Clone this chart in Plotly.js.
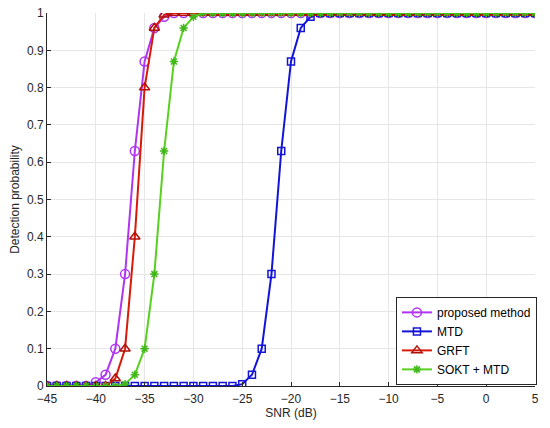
<!DOCTYPE html>
<html>
<head>
<meta charset="utf-8">
<script src="https://cdn.plot.ly/plotly-3.0.1.min.js"></script>
<style>
  html, body { margin: 0; padding: 0; background: #fff; }
  #chart { width: 550px; height: 428px; }
</style>
</head>
<body>
<div id="chart"></div>
<script>
// SNR axis, 1 dB steps
var snr = [-45,-44,-43,-42,-41,-40,-39,-38,-37,-36,-35,-34,-33,-32,-31,-30,-29,-28,-27,-26,
  -25,-24,-23,-22,-21,-20,-19,-18,-17,-16,-15,-14,-13,-12,-11,-10,-9,-8,-7,-6,-5,-4,-3,-2,-1,0,1,2,3,4,5];

var proposed = [0,0,0,0,0,0.01,0.03,0.1,0.3,0.63,0.87,0.96,0.99,1,1,1,1,1,1,1,
  1,1,1,1,1,1,1,1,1,1,1,1,1,1,1,1,1,1,1,1,1,1,1,1,1,1,1,1,1,1,1];

var mtd = [0,0,0,0,0,0,0,0,0,0,0,0,0,0,0,0,0,0,0,0,
  0.005,0.03,0.1,0.3,0.63,0.87,0.96,0.99,1,1,1,1,1,1,1,1,1,1,1,1,1,1,1,1,1,1,1,1,1,1,1];

var grft = [0,0,0,0,0,0,0,0.02,0.1,0.4,0.8,0.96,0.995,1,1,1,1,1,1,1,
  1,1,1,1,1,1,1,1,1,1,1,1,1,1,1,1,1,1,1,1,1,1,1,1,1,1,1,1,1,1,1];

var sokt = [0,0,0,0,0,0,0,0,0.005,0.03,0.1,0.3,0.63,0.87,0.96,0.99,1,1,1,1,
  1,1,1,1,1,1,1,1,1,1,1,1,1,1,1,1,1,1,1,1,1,1,1,1,1,1,1,1,1,1,1];

var xTicks = [-45,-40,-35,-30,-25,-20,-15,-10,-5,0,5];
var yTicks = [0,0.1,0.2,0.3,0.4,0.5,0.6,0.7,0.8,0.9,1];
var yTickText = ['0','0.1','0.2','0.3','0.4','0.5','0.6','0.7','0.8','0.9','1'];

var data = [
  {
    x: snr, y: proposed, name: 'proposed method',
    type: 'scatter', mode: 'lines+markers',
    line: { color: '#b035f0', width: 2 },
    marker: { symbol: 'circle-open', size: 9, color: '#b035f0', line: { width: 1.5 } }
  },
  {
    x: snr, y: mtd, name: 'MTD',
    type: 'scatter', mode: 'lines+markers',
    line: { color: '#1414d8', width: 2 },
    marker: { symbol: 'square-open', size: 7, color: '#1414d8', line: { width: 1.5 } }
  },
  {
    x: snr, y: grft, name: 'GRFT',
    type: 'scatter', mode: 'lines+markers',
    line: { color: '#d81a0a', width: 2 },
    marker: { symbol: 'triangle-up-open', size: 9, color: '#b01008', line: { width: 1.5 } }
  },
  {
    x: snr, y: sokt, name: 'SOKT + MTD',
    type: 'scatter', mode: 'lines+markers',
    line: { color: '#58d020', width: 2 },
    marker: { symbol: 'asterisk-open', size: 7, color: '#40b818', line: { width: 1.5 } }
  }
];

var layout = {
  width: 550,
  height: 428,
  margin: { l: 47, r: 15, t: 13, b: 42 },
  paper_bgcolor: '#ffffff',
  plot_bgcolor: '#ffffff',
  font: { family: 'Liberation Sans, Arial, sans-serif', size: 12, color: '#262626' },
  showlegend: true,
  legend: {
    x: 1.004, y: 0.003, xanchor: 'right', yanchor: 'bottom',
    bgcolor: '#ffffff', bordercolor: '#262626', borderwidth: 1,
    font: { size: 12, color: '#000000' },
    tracegroupgap: 0, itemwidth: 30
  },
  xaxis: {
    range: [-45, 5],
    tickvals: xTicks,
    title: { text: 'SNR (dB)', font: { size: 12, color: '#262626' }, standoff: 2 },
    showgrid: true, gridcolor: '#e6e6e6', gridwidth: 1,
    zeroline: false,
    showline: true, linecolor: '#262626', linewidth: 1,
    ticks: 'inside', ticklen: 4, tickcolor: '#262626',
    ticklabelstandoff: 2,
    mirror: false
  },
  yaxis: {
    range: [0, 1],
    tickvals: yTicks,
    ticktext: yTickText,
    title: { text: 'Detection probability', font: { size: 12, color: '#262626' }, standoff: 4 },
    showgrid: true, gridcolor: '#e6e6e6', gridwidth: 1,
    zeroline: false,
    showline: true, linecolor: '#262626', linewidth: 1,
    ticks: 'inside', ticklen: 4, tickcolor: '#262626',
    mirror: false
  }
};

Plotly.newPlot('chart', data, layout, { displayModeBar: false, staticPlot: true });
</script>
</body>
</html>
